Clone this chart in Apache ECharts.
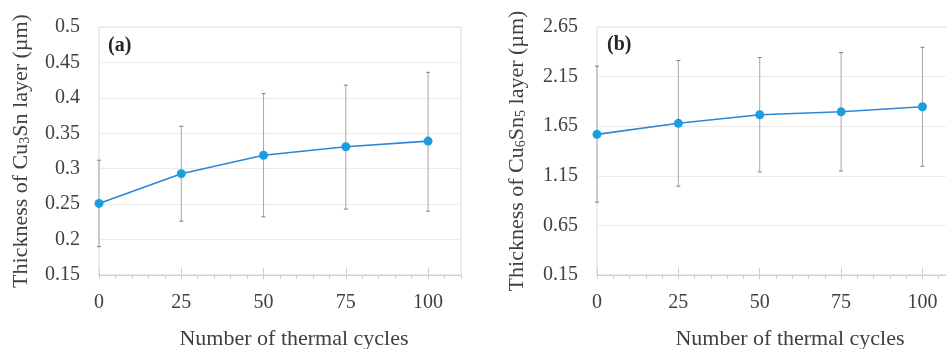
<!DOCTYPE html>
<html>
<head>
<meta charset="utf-8">
<script src="https://cdn.jsdelivr.net/npm/echarts@6/dist/echarts.min.js"></script>
<style>
  html, body { margin: 0; padding: 0; background: #fff; }
  #chart { width: 946px; height: 349px; }
</style>
</head>
<body>
<div id="chart"></div>
<script>
// thermal cycles (x)
var cycles = [0, 25, 50, 75, 100];

// (a) Cu3Sn thickness, mean and error bar ends
var cu3snMean  = [0.251, 0.293, 0.319, 0.331, 0.339];
var cu3snLow   = [0.190, 0.226, 0.232, 0.243, 0.240];
var cu3snHigh  = [0.312, 0.360, 0.406, 0.418, 0.436];

// (b) Cu6Sn5 thickness
var cu6sn5Mean = [1.568, 1.679, 1.765, 1.795, 1.846];
var cu6sn5Low  = [0.884, 1.045, 1.189, 1.199, 1.246];
var cu6sn5High = [2.255, 2.312, 2.342, 2.392, 2.446];

// axis ticks
var xMinorTicks = [0, 5, 10, 15, 20, 25, 30, 35, 40, 45, 50, 55, 60, 65, 70, 75, 80, 85, 90, 95, 100, 105, 110];
var xMajorTicks = [0, 25, 50, 75, 100];
var yTicksA = [0.15, 0.2, 0.25, 0.3, 0.35, 0.4, 0.45, 0.5];
var yTicksB = [0.15, 0.65, 1.15, 1.65, 2.15, 2.65];

var FONT = 'Liberation Serif';
var TXT = '#404040';

var chart = echarts.init(document.getElementById('chart'));

function pairs(xs, ys) {
    return xs.map(function (x, i) { return [x, ys[i]]; });
}

function errData(lo, hi) {
    return cycles.map(function (x, i) { return [x, lo[i], hi[i]]; });
}

function errRender(params, api) {
    var x = api.value(0);
    var top = api.coord([x, api.value(2)]);
    var bot = api.coord([x, api.value(1)]);
    var w = 2;
    return {
        type: 'group',
        children: [
            { type: 'line', shape: { x1: top[0], y1: top[1], x2: bot[0], y2: bot[1] },
              style: { stroke: '#a6a6a6', lineWidth: 1 } },
            { type: 'line', shape: { x1: top[0] - w, y1: top[1], x2: top[0] + w, y2: top[1] },
              style: { stroke: '#808080', lineWidth: 1 } },
            { type: 'line', shape: { x1: bot[0] - w, y1: bot[1], x2: bot[0] + w, y2: bot[1] },
              style: { stroke: '#808080', lineWidth: 1 } }
        ]
    };
}

function mainX(gridIndex) {
    return {
        type: 'value', gridIndex: gridIndex, position: 'bottom',
        min: 0, max: 110,
        name: 'Number of thermal cycles',
        nameLocation: 'middle', nameGap: 53,
        nameTextStyle: { fontFamily: FONT, fontSize: 22, color: TXT, padding: [0, 0, 0, 28] },
        axisLine: { show: true, lineStyle: { color: '#d0d0d0', width: 1 } },
        axisTick: { show: true, inside: false, length: 4, customValues: xMinorTicks,
                    lineStyle: { color: '#d0d0d0' } },
        axisLabel: { customValues: xMajorTicks, margin: 18,
                     fontFamily: FONT, fontSize: 20, color: TXT },
        splitLine: { show: false }
    };
}

function majorX(gridIndex) {
    return {
        type: 'value', gridIndex: gridIndex, position: 'bottom',
        min: 0, max: 110,
        axisLine: { show: false },
        axisTick: { show: true, inside: true, length: 7, customValues: xMajorTicks,
                    lineStyle: { color: '#d0d0d0' } },
        axisLabel: { show: false },
        splitLine: { show: false }
    };
}

function yAxis(gridIndex, min, max, ticks, nameRich, gap) {
    return {
        type: 'value', gridIndex: gridIndex,
        min: min, max: max,
        name: nameRich,
        nameLocation: 'middle', nameGap: gap, nameRotate: 90,
        nameTextStyle: {
            fontFamily: FONT, fontSize: 22, color: TXT,
            rich: { sub: { fontFamily: FONT, fontSize: 14, color: TXT, verticalAlign: 'bottom', padding: [8, 0, 0, 0] } }
        },
        axisLine: { show: false },
        axisTick: { show: false, customValues: ticks },
        axisLabel: { customValues: ticks, margin: 19, fontFamily: FONT, fontSize: 20, color: TXT,
                     formatter: function (v) { return String(+v.toFixed(2)); } },
        splitLine: { show: true, lineStyle: { color: '#ebebeb', width: 1 } }
    };
}

var lineStyle = { color: '#2e86d6', width: 1.6 };
var pointStyle = { color: '#1b9ee0' };

var option = {
    animation: false,
    backgroundColor: '#ffffff',
    title: [
        { text: '(a)', left: 103, top: 31,
          textStyle: { fontFamily: FONT, fontSize: 20, fontWeight: 'bold', color: '#262626' } },
        { text: '(b)', left: 602, top: 30,
          textStyle: { fontFamily: FONT, fontSize: 20, fontWeight: 'bold', color: '#262626' } }
    ],
    grid: [
        { left: 99, top: 27, width: 362, height: 248, outerBoundsMode: 'none',
          show: true, borderColor: '#d9d9d9', borderWidth: 1 },
        { left: 597, top: 27, width: 358, height: 248, outerBoundsMode: 'none',
          show: true, borderColor: '#d9d9d9', borderWidth: 1 }
    ],
    xAxis: [mainX(0), majorX(0), mainX(1), majorX(1)],
    yAxis: [
        yAxis(0, 0.15, 0.5, yTicksA, 'Thickness of Cu{sub|3}Sn layer (µm)', 67),
        yAxis(1, 0.15, 2.65, yTicksB, 'Thickness of Cu{sub|6}Sn{sub|5} layer (µm)', 69)
    ],
    series: [
        { type: 'custom', xAxisIndex: 0, yAxisIndex: 0, z: 1,
          renderItem: errRender, data: errData(cu3snLow, cu3snHigh) },
        { type: 'line', xAxisIndex: 0, yAxisIndex: 0, z: 3,
          data: pairs(cycles, cu3snMean), symbol: 'circle', symbolSize: 9,
          lineStyle: lineStyle, itemStyle: pointStyle },
        { type: 'custom', xAxisIndex: 2, yAxisIndex: 1, z: 1,
          renderItem: errRender, data: errData(cu6sn5Low, cu6sn5High) },
        { type: 'line', xAxisIndex: 2, yAxisIndex: 1, z: 3,
          data: pairs(cycles, cu6sn5Mean), symbol: 'circle', symbolSize: 9,
          lineStyle: lineStyle, itemStyle: pointStyle }
    ]
};

chart.setOption(option);
</script>
</body>
</html>
